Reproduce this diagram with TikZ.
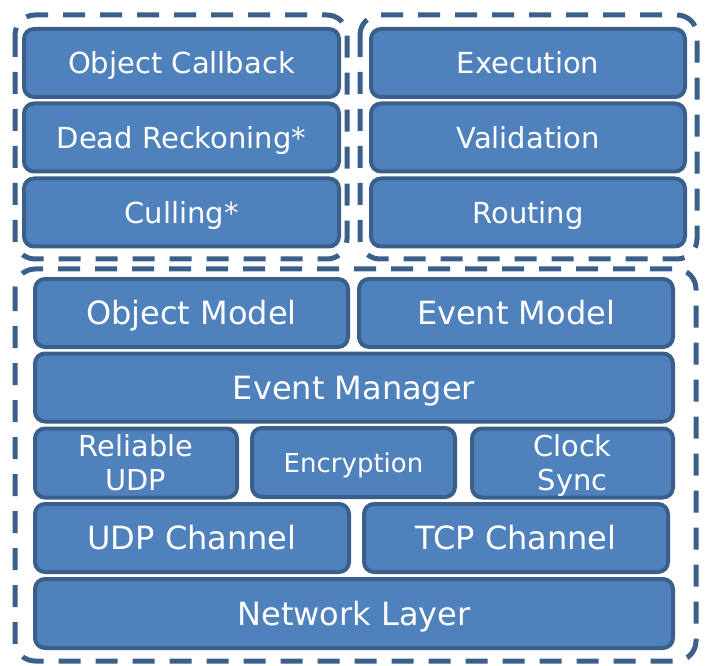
\documentclass[tikz,border=0pt]{standalone}
\usepackage{fontspec}
\setmainfont{DejaVu Sans}
\definecolor{boxfill}{HTML}{4F81BD}
\definecolor{boxline}{HTML}{3A5F8B}
\begin{document}
\begin{tikzpicture}[x=1pt,y=-1pt,
  blk/.style={draw=boxline, line width=4pt, fill=boxfill, rounded corners=10pt,
    text=white, align=center, inner sep=0pt, minimum height=68pt, text depth=0pt},
  big/.style={font=\fontsize{32}{39}\selectfont, text height=23.3pt},
  mid/.style={font=\fontsize{29}{36}\selectfont, text height=21.2pt},
  two/.style={font=\fontsize{28.8}{34}\selectfont, text height=55pt},
  sml/.style={font=\fontsize{26}{32}\selectfont, text height=19pt},
  grp/.style={draw=boxline, line width=5pt, rounded corners=20pt, dash pattern=on 22pt off 15pt}]
\useasboundingbox (0,0) rectangle (705,666);
% dashed groups
\draw[grp] (15,15) rectangle (347,259);
\draw[grp] (360,15) rectangle (697,259);
\draw[grp] (15,269) rectangle (696,661);
% top-left
\node[blk, mid, minimum width=315pt] (oc) at (181.5,63) {Object Callback};
\node[blk, mid, minimum width=315pt] (dr) at (181.5,137.5) {Dead Reckoning*};
\node[blk, mid, minimum width=315pt] (cu) at (181.5,212.5) {Culling*};
% top-right
\node[blk, mid, minimum width=314pt] (ex) at (528,63) {Execution};
\node[blk, mid, minimum width=314pt] (va) at (528,137.5) {Validation};
\node[blk, mid, minimum width=314pt] (ro) at (528,212.5) {Routing};
% bottom
\node[blk, big, minimum width=313pt] (om) at (191.5,313) {Object Model};
\node[blk, big, minimum width=314pt] (em) at (516,313) {Event Model};
\node[blk, big, minimum width=638pt] (mg) at (354,387.5) {Event Manager};
\node[blk, two, minimum width=202pt, minimum height=69pt] (ru) at (136,463) {Reliable\\UDP};
\node[blk, sml, minimum width=203pt, minimum height=69pt] (en) at (353.5,462.5) {Encryption};
\node[blk, two, minimum width=201pt, minimum height=69pt] (cs) at (572.5,463) {Clock\\Sync};
\node[blk, big, minimum width=314pt] (uc) at (192,538) {UDP Channel};
\node[blk, big, minimum width=304pt] (tc) at (516,538) {TCP Channel};
\node[blk, big, minimum width=638pt, minimum height=69pt] (nl) at (354,613.5) {Network Layer};
\end{tikzpicture}
\end{document}
